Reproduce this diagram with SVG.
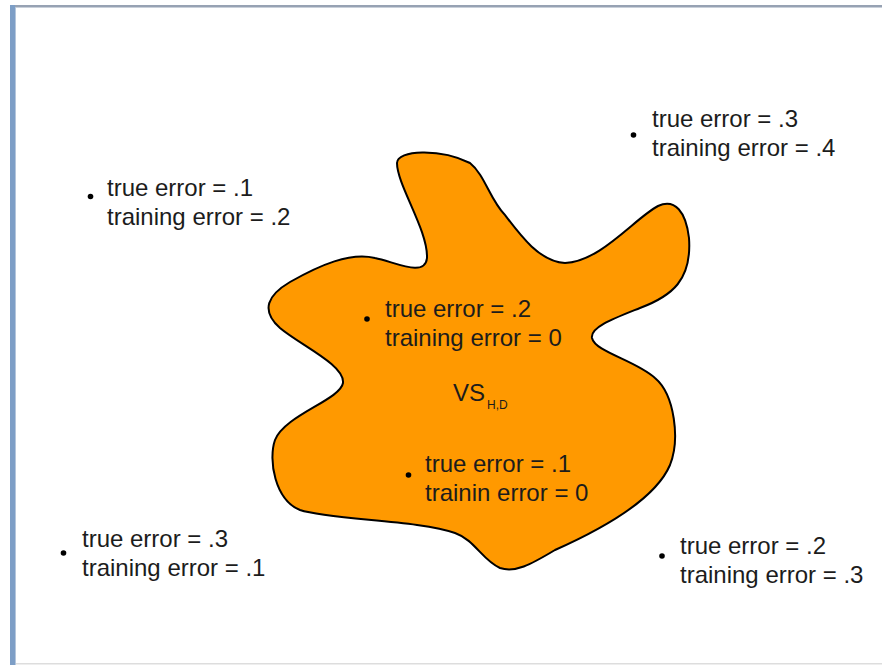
<svg xmlns="http://www.w3.org/2000/svg" width="882" height="665" viewBox="0 0 882 665">
<style>
text{font-family:"Liberation Sans",Arial,sans-serif;font-size:24px;fill:#1c1c1c}
.dot{fill:#000}
</style>
<rect width="882" height="665" fill="#fff"/>
<g id="frame">
<rect x="10" y="5" width="872" height="2" fill="#97a2b3"/>
<rect x="10" y="7" width="872" height="1" fill="#c9d0da"/>
<rect x="10" y="5" width="5" height="660" fill="#7d9ec6"/>
<rect x="15" y="7" width="1" height="658" fill="#b4c6dc"/>
<rect x="16" y="663" width="866" height="1.5" fill="#dddddd"/>
</g>
<g id="vs-region">
<path d="M397,163 C397,150 440,148 470,163 C485,175 490,200 505,215 C520,235 540,262 565,263 C600,262 635,218 658,206 C675,198 686,212 689,238 C692,280 672,296 640,308 C615,318 590,327 592,338 C595,352 635,360 655,378 C675,395 680,440 670,465 C655,500 600,530 555,550 C530,565 515,573 500,568 C482,560 475,540 455,533 C420,520 330,520 300,510 C275,500 268,460 275,440 C285,415 340,400 343,383 C345,365 300,345 280,328 C260,310 268,295 290,282 C320,265 350,252 375,258 C395,262 425,278 427,258 C428,230 397,185 397,163 Z" fill="#ff9900" stroke="#000" stroke-width="2"/>
<text x="453" y="401">VS</text>
<text x="487" y="409" style="font-size:12px">H,D</text>
</g>
<g id="h1">
<circle class="dot" cx="90.5" cy="196.5" r="2.8"/>
<text x="107" y="196">true error = .1</text>
<text x="107" y="225">training error = .2</text>
</g>
<g id="h2">
<circle class="dot" cx="633.5" cy="135" r="2.8"/>
<text x="652" y="127">true error = .3</text>
<text x="652" y="156">training error = .4</text>
</g>
<g id="h3">
<circle class="dot" cx="367" cy="319" r="2.8"/>
<text x="385" y="317">true error = .2</text>
<text x="385" y="346">training error = 0</text>
</g>
<g id="h4">
<circle class="dot" cx="408.5" cy="475" r="2.8"/>
<text x="425" y="472">true error = .1</text>
<text x="425" y="501">trainin error = 0</text>
</g>
<g id="h5">
<circle class="dot" cx="63.5" cy="553" r="2.8"/>
<text x="82" y="547">true error = .3</text>
<text x="82" y="576">training error = .1</text>
</g>
<g id="h6">
<circle class="dot" cx="662" cy="556" r="2.8"/>
<text x="680" y="554">true error = .2</text>
<text x="680" y="583">training error = .3</text>
</g>
<g id="connectors"></g>
</svg>
